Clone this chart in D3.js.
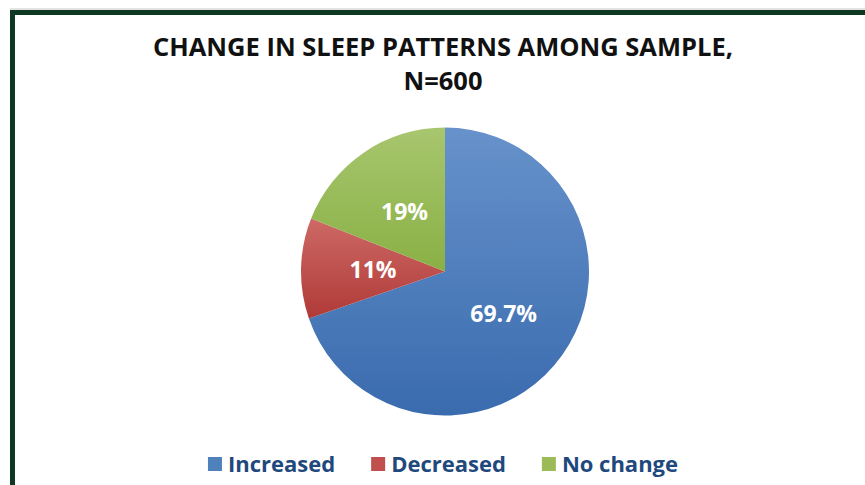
<!DOCTYPE html>
<html>
<head>
<meta charset="utf-8">
<script src="https://cdn.jsdelivr.net/npm/d3@7"></script>
<style>
  html, body { margin: 0; padding: 0; background: #ffffff; }
  svg { display: block; }
</style>
</head>
<body>
<div id="chart"></div>
<script>
// ---- data ----
const categories = ["Increased", "Decreased", "No change"];
const values = [69.7, 11.3, 19];
const valueLabels = ["69.7%", "11%", "19%"];
const titleLines = ["CHANGE IN SLEEP PATTERNS AMONG SAMPLE,", "N=600"];
const colorsTop = ["#6792cb", "#cd6966", "#a8c66e"];
const colorsBottom = ["#3a6bae", "#b03a37", "#89b045"];
const legendColors = ["#4f81bd", "#c0504d", "#9bbb59"];

// ---- layout ----
const W = 865, H = 485;
const cx = 445, cy = 271.5, R = 144;

const svg = d3.select("#chart").append("svg")
  .attr("width", W).attr("height", H);

// border (chart area frame)
svg.append("line").attr("x1", 10).attr("x2", W).attr("y1", 9).attr("y2", 9)
  .attr("stroke", "#c8c8c8").attr("stroke-width", 1);
svg.append("rect")
  .attr("x", 12.5).attr("y", 12.5)
  .attr("width", W + 20).attr("height", H + 20)
  .attr("fill", "#ffffff")
  .attr("stroke", "#0e3822").attr("stroke-width", 5);

// gradients
const defs = svg.append("defs");
categories.forEach((c, i) => {
  const g = defs.append("linearGradient")
    .attr("id", "grad" + i)
    .attr("x1", 0).attr("y1", 0).attr("x2", 0).attr("y2", 1);
  g.append("stop").attr("offset", "0%").attr("stop-color", colorsTop[i]);
  g.append("stop").attr("offset", "100%").attr("stop-color", colorsBottom[i]);
});

// title
const title = svg.append("text")
  .attr("x", 443).attr("text-anchor", "middle")
  .attr("font-family", "'Open Sans', sans-serif")
  .attr("font-weight", 700).attr("font-size", 25.5)
  .attr("fill", "#111111");
title.selectAll("tspan").data(titleLines).join("tspan")
  .attr("x", 443)
  .attr("y", (d, i) => 56 + i * 34)
  .text(d => d);

// pie
const pie = d3.pie().sort(null).value(d => d);
const arcs = pie(values);
const arc = d3.arc().innerRadius(0).outerRadius(R);

const g = svg.append("g").attr("transform", `translate(${cx},${cy})`);
g.selectAll("path.slice").data(arcs).join("path")
  .attr("class", "slice")
  .attr("d", arc)
  .attr("fill", (d, i) => `url(#grad${i})`);

g.selectAll("text.lbl").data(arcs).join("text")
  .attr("class", "lbl")
  .attr("transform", d => `translate(${arc.centroid(d)})`)
  .attr("text-anchor", "middle")
  .attr("dy", "0.36em")
  .attr("font-family", "'Open Sans', sans-serif")
  .attr("font-weight", 700).attr("font-size", 23)
  .attr("fill", "#ffffff")
  .text((d, i) => valueLabels[i]);

// legend
const legend = svg.append("g");
const items = legend.selectAll("g.item").data(categories).join("g").attr("class", "item");
items.append("rect")
  .attr("width", 14).attr("height", 14)
  .attr("y", -15)
  .attr("fill", (d, i) => legendColors[i]);
items.append("text")
  .attr("x", 20).attr("y", 0)
  .attr("font-family", "'Open Sans', sans-serif")
  .attr("font-weight", 700).attr("font-size", 22)
  .attr("fill", "#1f497d")
  .text(d => d);
let xoff = 0;
items.each(function() {
  const t = d3.select(this).select("text").node().getComputedTextLength();
  d3.select(this).attr("transform", `translate(${xoff},0)`);
  xoff += 20 + t + 36;
});
const totalW = xoff - 36;
legend.attr("transform", `translate(${443 - totalW / 2},472)`);
</script>
</body>
</html>
